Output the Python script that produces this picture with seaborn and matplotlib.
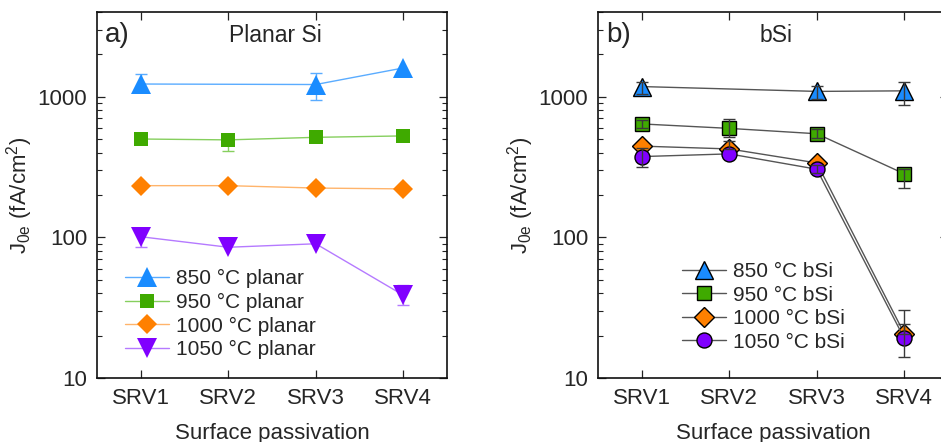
import numpy as np
import pandas as pd
import matplotlib
matplotlib.use("Agg")
import matplotlib.pyplot as plt
import seaborn as sns
from matplotlib.ticker import LogLocator, NullFormatter, FixedLocator, FixedFormatter

# ---------------- data ----------------
categories = ["SRV1", "SRV2", "SRV3", "SRV4"]
xpos = [1, 2, 3, 4]

planar_labels = ["850 °C planar", "950 °C planar", "1000 °C planar", "1050 °C planar"]
p850 = [1230, np.nan, 1220, 1600]
p950 = [500, 493, 514, 526]
p1000 = [233, 233, 224, 221]
p1050 = [101, 85, 90, 38.8]
p850_lo = [115, 0, 270, 0]
p850_hi = [220, 0, 250, 0]
p950_lo = [0, 80, 0, 0]
p950_hi = [0, 0, 0, 0]
p1000_lo = [0, 0, 0, 0]
p1000_hi = [0, 0, 0, 0]
p1050_lo = [15, 0, 0, 6]
p1050_hi = [14, 0, 0, 7]

bsi_labels = ["850 °C bSi", "950 °C bSi", "1000 °C bSi", "1050 °C bSi"]
b850 = [1180, np.nan, 1090, 1100]
b950 = [640, 595, 545, 283]
b1000 = [445, 425, 338, 20.7]
b1050 = [375, 392, 305, 19.1]
b850_lo = [130, 0, 120, 225]
b850_hi = [100, 0, 100, 180]
b950_lo = [40, 80, 40, 58]
b950_hi = [40, 95, 40, 25]
b1000_lo = [0, 0, 0, 0]
b1000_hi = [0, 60, 0, 3.5]
b1050_lo = [60, 0, 20, 5]
b1050_hi = [60, 0, 20, 11.5]

yticks = [10, 100, 1000]
ytick_labels = ["10", "100", "1000"]

# ---------------- style ----------------
sns.set_style("ticks")
plt.rcParams["font.family"] = ["Liberation Sans", "DejaVu Sans"]
plt.rcParams["mathtext.default"] = "regular"

fig = plt.figure(figsize=(9.41, 4.42), dpi=100)
axL = fig.add_axes([0.1031, 0.1448, 0.3720, 0.8281])
axR = fig.add_axes([0.6355, 0.1448, 0.3720, 0.8281])

marker_fill = ["#1a8cff", "#3faa00", "#ff8000", "#8000ff"]
line_light = ["#5aacff", "#86cf5e", "#ffb46b", "#b57aff"]
planar_markers = ["^", "s", "D", "v"]
planar_ms = [13.8, 10.5, 10, 13.8]
bsi_markers = ["^", "s", "D", "o"]
bsi_ms = [13.5, 10, 9.8, 10.8]

planar_data = [(p850, p850_lo, p850_hi), (p950, p950_lo, p950_hi),
               (p1000, p1000_lo, p1000_hi), (p1050, p1050_lo, p1050_hi)]
bsi_data = [(b850, b850_lo, b850_hi), (b950, b950_lo, b950_hi),
            (b1000, b1000_lo, b1000_hi), (b1050, b1050_lo, b1050_hi)]

def draw_series(ax, vals, lo, hi, label, lc, mfc, mec, marker, ms, ecolor, ezorder, mew):
    df = pd.DataFrame({"x": xpos, "y": vals, "lo": lo, "hi": hi}).dropna()
    sns.lineplot(data=df, x="x", y="y", ax=ax, color=lc, lw=1.0, marker=marker,
                 markersize=ms, markerfacecolor=mfc, markeredgecolor=mec,
                 markeredgewidth=mew, label=label, zorder=3)
    e = df[(df["lo"] > 0) | (df["hi"] > 0)]
    if len(e):
        ax.errorbar(e["x"], e["y"], yerr=[e["lo"], e["hi"]], fmt="none",
                    ecolor=ecolor, elinewidth=1.0, capsize=4, capthick=1.0,
                    zorder=ezorder)

for i, (vals, lo, hi) in enumerate(planar_data):
    draw_series(axL, vals, lo, hi, planar_labels[i], line_light[i], marker_fill[i],
                marker_fill[i], planar_markers[i], planar_ms[i], line_light[i], 2, 0.0)

for i, (vals, lo, hi) in enumerate(bsi_data):
    draw_series(axR, vals, lo, hi, bsi_labels[i], "#555555", marker_fill[i],
                "black", bsi_markers[i], bsi_ms[i], "#3a3a3a", 5, 1.0)

for ax, tag, title in [(axL, "a)", "Planar Si"), (axR, "b)", "bSi")]:
    ax.set_yscale("log")
    ax.set_ylim(10, 4000)
    ax.set_xlim(0.5, 4.5)
    ax.xaxis.set_major_locator(FixedLocator(xpos))
    ax.xaxis.set_major_formatter(FixedFormatter(categories))
    ax.yaxis.set_major_locator(FixedLocator(yticks))
    ax.yaxis.set_major_formatter(FixedFormatter(ytick_labels))
    ax.yaxis.set_minor_locator(LogLocator(base=10, subs=np.arange(2, 10), numticks=20))
    ax.yaxis.set_minor_formatter(NullFormatter())
    ax.tick_params(which="major", direction="in", length=6, width=0.9,
                   top=True, right=True, labelsize=16, pad=7, color="#222222")
    ax.tick_params(which="minor", direction="in", length=3.5, width=0.8,
                   right=True, left=True, color="#222222")
    ax.tick_params(axis="x", which="minor", bottom=False, top=False)
    for sp in ax.spines.values():
        sp.set_linewidth(1.2)
        sp.set_color("#111111")
    ax.set_xlabel("Surface passivation", fontsize=16, labelpad=10)
    ax.set_ylabel(r"J$_{0e}$ (fA/cm$^{2}$)", fontsize=16, labelpad=2)
    ax.text(0.023, 0.937, tag, transform=ax.transAxes, fontsize=20,
            ha="left", va="center")
    ax.text(0.51, 0.937, title, transform=ax.transAxes, fontsize=16.5,
            ha="center", va="center")

legL = axL.legend(loc="upper left", bbox_to_anchor=(0.08, 0.297), frameon=False,
                  fontsize=15, handlelength=2.1, handletextpad=0.35,
                  labelspacing=0.22, borderaxespad=0, borderpad=0)
legR = axR.legend(loc="upper left", bbox_to_anchor=(0.24, 0.317), frameon=False,
                  fontsize=15, handlelength=2.1, handletextpad=0.35,
                  labelspacing=0.22, borderaxespad=0, borderpad=0)

fig.savefig("out.png", dpi=100)
